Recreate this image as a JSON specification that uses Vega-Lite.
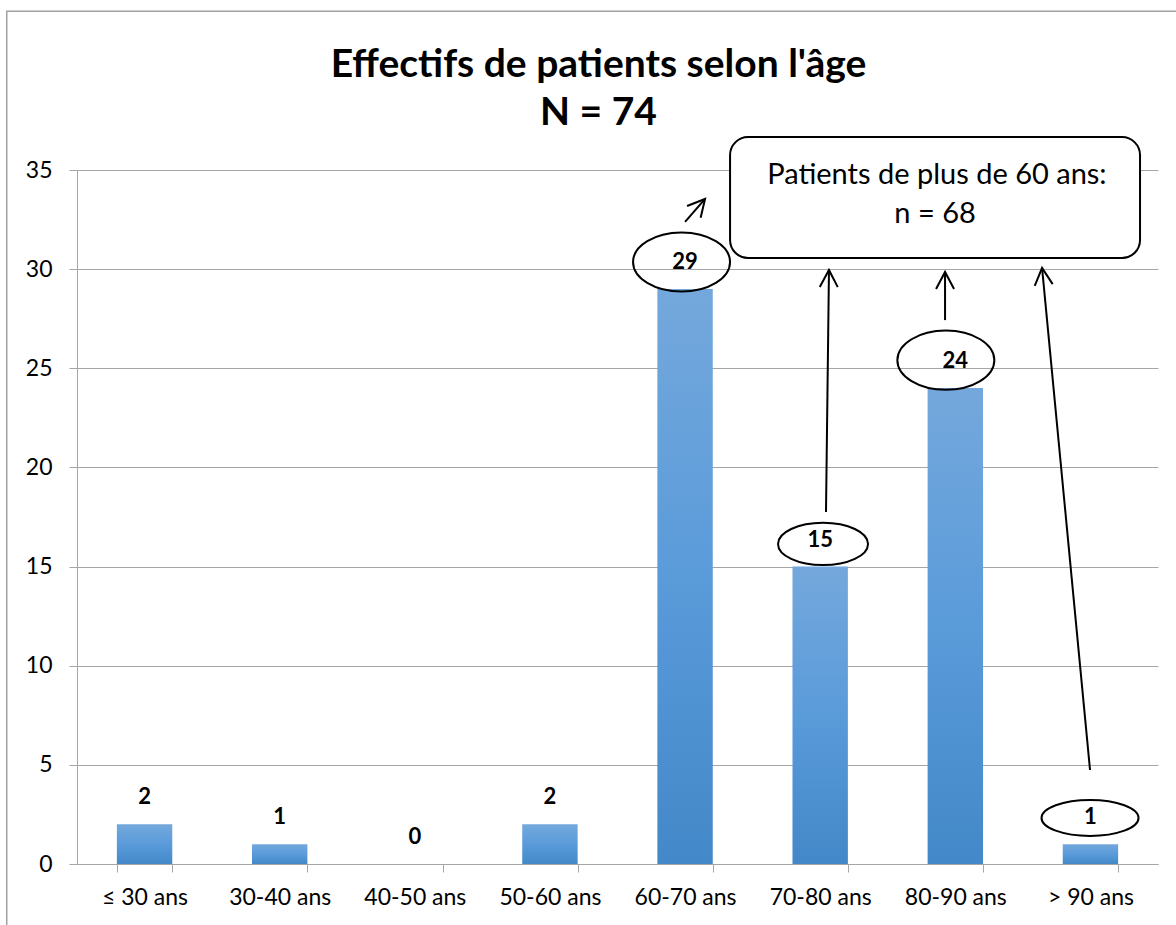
{
  "$schema": "https://vega.github.io/schema/vega-lite/v6.json",
  "width": 1081,
  "height": 694,
  "autosize": {"type": "none"},
  "padding": {"left": 77, "top": 170, "right": 18, "bottom": 61},
  "background": "white",
  "config": {"font": "Lato", "view": {"stroke": null}},
  "title": {
    "text": ["Effectifs de patients selon l'âge", "N = 74"],
    "fontSize": 39,
    "fontWeight": "bold",
    "font": "Lato",
    "color": "black",
    "lineHeight": 48,
    "offset": -122,
    "anchor": "middle",
    "dx": -19
  },
  "datasets": {
    "ages": [
      {"age": "≤ 30 ans", "n": 2},
      {"age": "30-40 ans", "n": 1},
      {"age": "40-50 ans", "n": 0},
      {"age": "50-60 ans", "n": 2},
      {"age": "60-70 ans", "n": 29},
      {"age": "70-80 ans", "n": 15},
      {"age": "80-90 ans", "n": 24},
      {"age": "> 90 ans", "n": 1}
    ],
    "frame": [{"u1": -0.52, "u2": 9.5, "v1": 43.0, "v2": -6}],
    "box": [{"u1": 4.833, "u2": 7.867, "v1": 30.56, "v2": 36.66}],
    "boxtext": [
      {"u": 6.364, "v": 34.75, "line": "Patients de plus de 60 ans:"},
      {"u": 6.35, "v": 32.78, "line": "n = 68"}
    ],
    "ellipses": [
      {"label": "29", "u": 4.474, "v": 30.36},
      {"label": "24", "u": 6.43, "v": 25.41},
      {"label": "15", "u": 5.521, "v": 16.14},
      {"label": "1", "u": 7.497, "v": 2.32}
    ],
    "arrows": [
      {"id": "a1", "u1": 4.5, "v1": 32.38, "u2": 4.648, "v2": 33.54, "heading": 41},
      {"id": "a2", "u1": 5.543, "v1": 17.75, "u2": 5.565, "v2": 29.96, "heading": 0.7},
      {"id": "a3", "u1": 6.424, "v1": 27.43, "u2": 6.424, "v2": 29.86, "heading": 0},
      {"id": "a4", "u1": 7.497, "v1": 4.74, "u2": 7.142, "v2": 30.06, "heading": -5.5}
    ]
  },
  "resolve": {"scale": {"x": "independent"}},
  "layer": [
    {
      "data": {"name": "ages"},
      "encoding": {
        "x": {
          "field": "age",
          "type": "nominal",
          "sort": null,
          "scale": {"paddingInner": 0.59, "paddingOuter": 0.295},
          "axis": {
            "title": null,
            "labelAngle": 0,
            "labelFontSize": 23,
            "labelColor": "black",
            "labelFont": "Lato",
            "labelPadding": 14,
            "tickBand": "extent",
            "tickSize": 8,
            "tickColor": "#a6a6a6",
            "domainColor": "#a6a6a6",
            "grid": false
          }
        },
        "y": {
          "field": "n",
          "type": "quantitative",
          "scale": {"domain": [0, 35], "nice": false},
          "axis": {
            "title": null,
            "values": [0, 5, 10, 15, 20, 25, 30, 35],
            "labelFontSize": 23,
            "labelColor": "black",
            "labelFont": "Lato",
            "labelPadding": 17,
            "tickSize": 8,
            "tickColor": "#a6a6a6",
            "domainColor": "#a6a6a6",
            "gridColor": "#a6a6a6",
            "grid": true
          }
        }
      },
      "layer": [
        {
          "mark": {
            "type": "bar",
            "color": {
              "gradient": "linear",
              "x1": 0, "y1": 0, "x2": 0, "y2": 1,
              "stops": [
                {"offset": 0, "color": "#74a8dc"},
                {"offset": 0.5, "color": "#5a9bda"},
                {"offset": 1, "color": "#4388c8"}
              ]
            }
          }
        },
        {
          "mark": {
            "type": "text",
            "fontSize": 22,
            "fontWeight": "bold",
            "font": "Lato",
            "color": "black",
            "baseline": "middle",
            "dy": -27
          },
          "encoding": {"text": {"field": "n", "type": "quantitative"}}
        }
      ]
    },
    {
      "layer": [
        {
          "data": {"name": "frame"},
          "mark": {"type": "rect", "filled": false, "stroke": "#a0a0a0", "strokeWidth": 1.5},
          "encoding": {
            "x": {"field": "u1", "type": "quantitative", "scale": {"domain": [0, 8], "nice": false, "zero": false}, "axis": null},
            "x2": {"field": "u2"},
            "y": {"field": "v1", "type": "quantitative", "scale": {"domain": [0, 35], "nice": false}},
            "y2": {"field": "v2"}
          }
        },
        {
          "data": {"name": "box"},
          "mark": {"type": "rect", "fill": "white", "stroke": "black", "strokeWidth": 2, "cornerRadius": 18},
          "encoding": {
            "x": {"field": "u1", "type": "quantitative", "scale": {"domain": [0, 8], "nice": false, "zero": false}, "axis": null},
            "x2": {"field": "u2"},
            "y": {"field": "v1", "type": "quantitative", "scale": {"domain": [0, 35], "nice": false}},
            "y2": {"field": "v2"}
          }
        },
        {
          "data": {"name": "boxtext"},
          "mark": {"type": "text", "fontSize": 29, "font": "Lato", "color": "black", "baseline": "middle"},
          "encoding": {
            "x": {"field": "u", "type": "quantitative", "scale": {"domain": [0, 8], "nice": false, "zero": false}, "axis": null},
            "y": {"field": "v", "type": "quantitative", "scale": {"domain": [0, 35], "nice": false}},
            "text": {"field": "line"}
          }
        },
        {
          "data": {"name": "ellipses"},
          "transform": [{"filter": "datum.label == '29' || datum.label == '24'"}],
          "mark": {"type": "point", "filled": false, "stroke": "black", "strokeWidth": 2, "opacity": 1, "size": 9409,
                   "shape": "M -1 0 A 1 0.61 0 1 1 1 0 A 1 0.61 0 1 1 -1 0 Z"},
          "encoding": {
            "x": {"field": "u", "type": "quantitative", "scale": {"domain": [0, 8], "nice": false, "zero": false}, "axis": null},
            "y": {"field": "v", "type": "quantitative", "scale": {"domain": [0, 35], "nice": false}}
          }
        },
        {
          "data": {"name": "ellipses"},
          "transform": [{"filter": "datum.label == '15'"}],
          "mark": {"type": "point", "filled": false, "stroke": "black", "strokeWidth": 2, "opacity": 1, "size": 8100,
                   "shape": "M -1 0 A 1 0.47 0 1 1 1 0 A 1 0.47 0 1 1 -1 0 Z"},
          "encoding": {
            "x": {"field": "u", "type": "quantitative", "scale": {"domain": [0, 8], "nice": false, "zero": false}, "axis": null},
            "y": {"field": "v", "type": "quantitative", "scale": {"domain": [0, 35], "nice": false}}
          }
        },
        {
          "data": {"name": "ellipses"},
          "transform": [{"filter": "datum.label == '1'"}],
          "mark": {"type": "point", "filled": false, "stroke": "black", "strokeWidth": 2, "opacity": 1, "size": 9409,
                   "shape": "M -1 0 A 1 0.37 0 1 1 1 0 A 1 0.37 0 1 1 -1 0 Z"},
          "encoding": {
            "x": {"field": "u", "type": "quantitative", "scale": {"domain": [0, 8], "nice": false, "zero": false}, "axis": null},
            "y": {"field": "v", "type": "quantitative", "scale": {"domain": [0, 35], "nice": false}}
          }
        },
        {
          "data": {"name": "arrows"},
          "mark": {"type": "rule", "color": "black", "strokeWidth": 2},
          "encoding": {
            "x": {"field": "u1", "type": "quantitative", "scale": {"domain": [0, 8], "nice": false, "zero": false}, "axis": null},
            "x2": {"field": "u2"},
            "y": {"field": "v1", "type": "quantitative", "scale": {"domain": [0, 35], "nice": false}},
            "y2": {"field": "v2"}
          }
        },
        {
          "data": {"name": "arrows"},
          "mark": {"type": "point", "filled": false, "stroke": "black", "strokeWidth": 2, "opacity": 1, "size": 324,
                   "shape": "M -1 1.9 L 0 0 L 1 1.9"},
          "encoding": {
            "x": {"field": "u2", "type": "quantitative", "scale": {"domain": [0, 8], "nice": false, "zero": false}, "axis": null},
            "y": {"field": "v2", "type": "quantitative", "scale": {"domain": [0, 35], "nice": false}},
            "angle": {"field": "heading", "type": "quantitative", "scale": null}
          }
        }
      ]
    }
  ]
}
